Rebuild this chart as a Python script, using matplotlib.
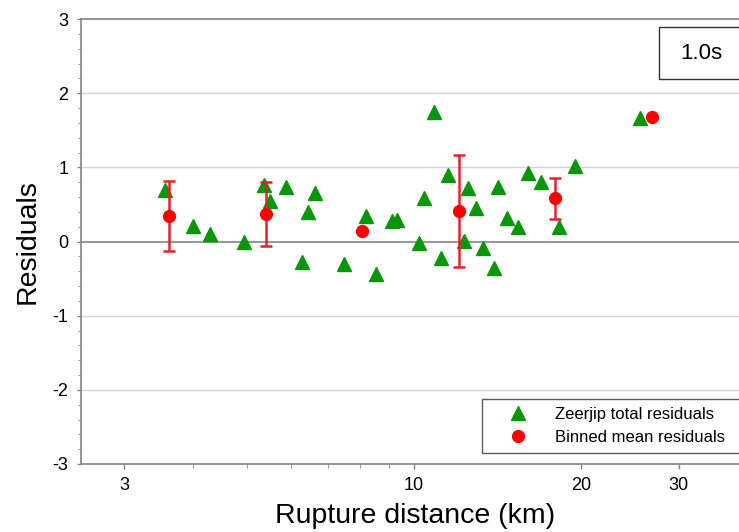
import numpy as np
import matplotlib.pyplot as plt
from matplotlib.patches import Rectangle
from matplotlib.ticker import FixedLocator, NullFormatter, MultipleLocator

plt.rcParams['font.family'] = ['Liberation Sans', 'DejaVu Sans']
plt.rcParams['axes.unicode_minus'] = False

# Zeerjip total residuals (distance km, residual)
dist = [3.56, 4.0, 4.28, 4.94, 5.37, 5.51, 5.87, 6.27, 6.45, 6.62,
        7.48, 8.18, 8.53, 9.14, 9.33, 10.2, 10.42, 10.88, 11.2, 11.5,
        12.32, 12.53, 12.93, 13.33, 13.93, 14.17, 14.71, 15.38, 16.03,
        16.96, 18.27, 19.47, 25.5]
resid = [0.69, 0.21, 0.10, 0.0, 0.76, 0.55, 0.73, -0.28, 0.40, 0.66,
         -0.30, 0.34, -0.44, 0.28, 0.29, -0.02, 0.59, 1.74, -0.22, 0.89,
         0.01, 0.72, 0.45, -0.09, -0.36, 0.73, 0.32, 0.20, 0.93,
         0.80, 0.19, 1.02, 1.67]

# binned means with error bar ends
bin_dist = [3.62, 5.41, 8.07, 12.05, 17.95, 26.8]
bin_mean = [0.35, 0.37, 0.14, 0.41, 0.58, 1.68]
bin_upper = [0.81, 0.80, 0.14, 1.16, 0.85, 1.68]
bin_lower = [-0.13, -0.06, 0.14, -0.34, 0.31, 1.68]

W, H = 739, 532
fig = plt.figure(figsize=(W / 100, H / 100), dpi=100)
ax = fig.add_axes([81 / W, 1 - 464 / H, 1 - 81 / W, (464 - 19) / H])

ax.set_xscale('log')
ax.set_xlim(2.51, 38.5)
ax.set_ylim(-3, 3)

# grid lines
for g in [-2, -1, 1, 2]:
    ax.axhline(g, color='#d4d4d4', lw=1.0, zorder=0)
ax.axhline(0, color='#999999', lw=1.5, zorder=0)

green = '#0a960a'
red = '#ff0000'
ax.plot(dist, resid, linestyle='none', marker='^', ms=10, color=green,
        mec=green, label='Zeerjip total residuals', zorder=3)

bm = np.array(bin_mean)
yerr = [bm - np.array(bin_lower), np.array(bin_upper) - bm]
ax.errorbar(bin_dist, bin_mean, yerr=yerr, fmt='none', ecolor='#e8202a',
            elinewidth=1.8, capsize=4, capthick=1.8, zorder=4)
ax.plot(bin_dist, bin_mean, linestyle='none', marker='o', ms=8.5, color=red,
        mec=red, label='Binned mean residuals', zorder=5)

# ticks
ax.xaxis.set_major_locator(FixedLocator([3, 10, 20, 30]))
ax.xaxis.set_minor_locator(FixedLocator([4, 5, 6, 7, 8, 9]))
ax.xaxis.set_minor_formatter(NullFormatter())
ax.set_xticklabels(['3', '10', '20', '30'])
ax.yaxis.set_major_locator(MultipleLocator(1))
ax.yaxis.set_minor_locator(MultipleLocator(0.2))
ax.tick_params(axis='both', which='major', labelsize=13, color='#808080',
               width=1)
ax.tick_params(axis='x', which='major', length=3.6, pad=5.5)
ax.tick_params(axis='x', which='minor', length=3, color='#808080')
ax.tick_params(axis='y', which='major', length=3, pad=6)
ax.tick_params(axis='y', which='minor', length=2, color='#808080')

for s in ['left', 'bottom', 'top']:
    ax.spines[s].set_color('#8c8c8c')
    ax.spines[s].set_linewidth(1.3)
ax.spines['right'].set_visible(False)

ax.set_xlabel('Rupture distance (km)', fontsize=20.5)
ax.set_ylabel('Residuals', fontsize=20.5)
ax.xaxis.set_label_coords((415 - 81) / 658, -0.087)
ax.yaxis.set_label_coords((41 - 81) / 658, 0.5)

leg = ax.legend(loc='lower left',
                bbox_to_anchor=(482 / W, 1 - 453 / H, 270 / W, 57 / H),
                bbox_transform=fig.transFigure, mode='expand', fontsize=12,
                frameon=True, fancybox=False, borderpad=0.5,
                handlelength=3.3, handletextpad=0.57, labelspacing=0.45,
                borderaxespad=0)
leg.get_frame().set_edgecolor('#333333')
leg.get_frame().set_linewidth(1.0)

# period label box
fig.patches.append(Rectangle((659 / W, 1 - 79 / H), 0.2, 52 / H,
                             transform=fig.transFigure, fill=True,
                             facecolor='white', edgecolor='#333333', lw=1.0,
                             zorder=6))
fig.text(701 / W, 1 - 53.5 / H, '1.0s', fontsize=16, ha='center',
         va='center', zorder=7)

fig.savefig('out.png', dpi=100)
